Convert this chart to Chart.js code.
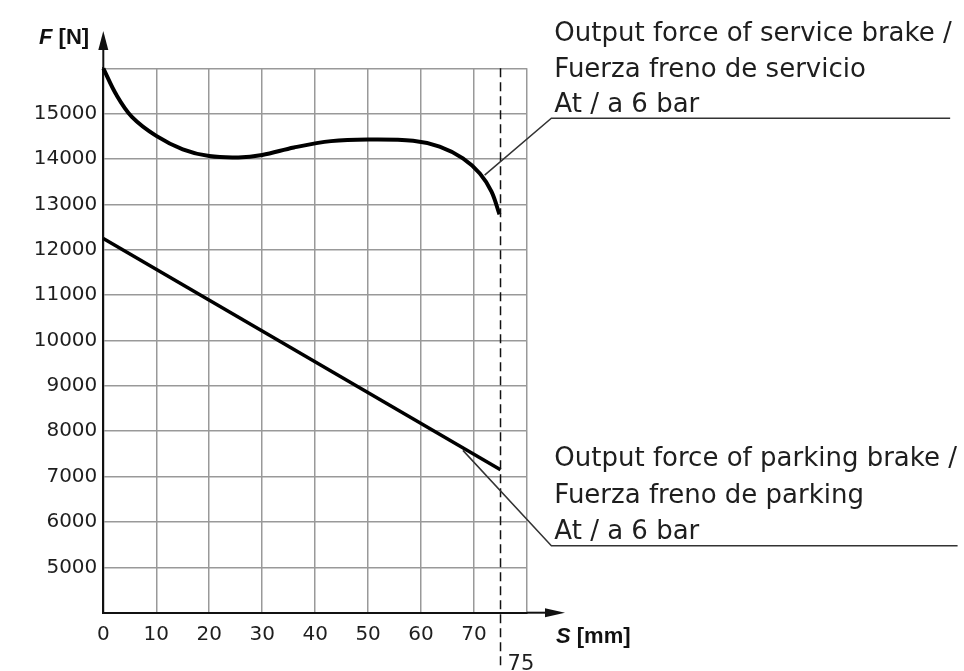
<!DOCTYPE html>
<html>
<head>
<meta charset="utf-8">
<script src="https://cdn.jsdelivr.net/npm/chart.js@4.4.0/dist/chart.umd.min.js"></script>
<style>
html,body{margin:0;padding:0;background:#fff;}
#wrap{width:964px;height:671px;position:relative;}
</style>
</head>
<body>
<div id="wrap"><canvas id="c" width="964" height="671"></canvas></div>
<script>
// ---- data (S in mm, F in N) ----
const serviceS = [0, 2.5, 5.4, 10, 15, 20, 25.5, 30, 36, 43, 50, 58.5, 63.5, 67.9, 71.1, 73.3, 74.8];
const serviceF = [16000, 15410, 14930, 14510, 14215, 14065, 14035, 14090, 14255, 14395, 14432, 14405, 14275, 14015, 13680, 13280, 12780];
const parkingS = [0, 75];
const parkingF = [12250, 7150];
const xTicks = [0, 10, 20, 30, 40, 50, 60, 70];
const yTicks = [5000, 6000, 7000, 8000, 9000, 10000, 11000, 12000, 13000, 14000, 15000];
const markerS = 75;
const serviceLabel = ["Output force of service brake /", "Fuerza freno de servicio", "At / a 6 bar"];
const parkingLabel = ["Output force of parking brake /", "Fuerza freno de parking", "At / a 6 bar"];
// leader anchors in data units: [point on curve, elbow, end of underline]
const serviceLeader = [[72.0, 13645], [84.6, 14900], [159.9, 14900]];
const parkingLeader = [[67.9, 7578], [84.6, 5478], [161.3, 5478]];

const FONT = "'DejaVu Sans', sans-serif";
const TFONT = "'Liberation Sans', Arial, sans-serif";
const TXT = '#1e1e1e';

const extras = {
  id: 'extras',
  afterDraw(chart) {
    const ctx = chart.ctx;
    const xs = chart.scales.x, ys = chart.scales.y;
    const a = chart.chartArea;
    ctx.save();
    // dashed marker line
    const mx = xs.getPixelForValue(markerS);
    ctx.strokeStyle = '#111'; ctx.lineWidth = 1.5; ctx.setLineDash([9, 5]);
    ctx.beginPath(); ctx.moveTo(mx, a.top); ctx.lineTo(mx, 668); ctx.stroke();
    ctx.setLineDash([]);
    ctx.fillStyle = TXT; ctx.font = '21px ' + FONT; ctx.textAlign = 'left'; ctx.textBaseline = 'alphabetic';
    ctx.fillText(String(markerS), mx + 7, 670);
    // axis extensions + arrows
    ctx.strokeStyle = '#111'; ctx.fillStyle = '#111'; ctx.lineWidth = 2;
    ctx.beginPath(); ctx.moveTo(a.left, a.top); ctx.lineTo(a.left, 45); ctx.stroke();
    ctx.beginPath(); ctx.moveTo(a.left, 31); ctx.lineTo(a.left - 5, 50); ctx.lineTo(a.left + 5, 50); ctx.closePath(); ctx.fill();
    ctx.beginPath(); ctx.moveTo(a.right, a.bottom); ctx.lineTo(550, a.bottom); ctx.stroke();
    ctx.beginPath(); ctx.moveTo(565, a.bottom); ctx.lineTo(545, a.bottom - 4.5); ctx.lineTo(545, a.bottom + 4.5); ctx.closePath(); ctx.fill();
    // axis titles
    ctx.fillStyle = '#111';
    ctx.textAlign = 'left';
    ctx.font = 'italic bold 22px ' + TFONT;
    ctx.fillText('F', 39, 44);
    let w = ctx.measureText('F').width;
    ctx.font = 'bold 22px ' + TFONT;
    ctx.fillText(' [N]', 39 + w, 44);
    ctx.font = 'italic bold 22px ' + TFONT;
    ctx.fillText('S', 556, 643);
    w = ctx.measureText('S').width;
    ctx.font = 'bold 22px ' + TFONT;
    ctx.fillText(' [mm]', 556 + w, 643);
    // leaders + labels
    const drawLeader = (pts, lines, offs) => {
      const p = pts.map(q => [xs.getPixelForValue(q[0]), ys.getPixelForValue(q[1])]);
      ctx.strokeStyle = '#333'; ctx.lineWidth = 1.5;
      ctx.beginPath(); ctx.moveTo(p[0][0], p[0][1]); ctx.lineTo(p[1][0], p[1][1]); ctx.lineTo(p[2][0], p[2][1]); ctx.stroke();
      ctx.fillStyle = TXT; ctx.font = '26px ' + FONT; ctx.textAlign = 'left';
      lines.forEach((t, i) => ctx.fillText(t, p[1][0] + 3, p[1][1] + offs[i]));
    };
    drawLeader(serviceLeader, serviceLabel, [-77, -41, -6]);
    drawLeader(parkingLeader, parkingLabel, [-80, -43, -7]);
    ctx.restore();
  }
};

new Chart(document.getElementById('c'), {
  type: 'line',
  data: {
    datasets: [
      { data: serviceS.map((s, i) => ({x: s, y: serviceF[i]})), borderColor: '#000', borderWidth: 4, pointRadius: 0, tension: 0.35, fill: false, clip: false },
      { data: parkingS.map((s, i) => ({x: s, y: parkingF[i]})), borderColor: '#000', borderWidth: 3.5, pointRadius: 0, tension: 0, fill: false, clip: false }
    ]
  },
  options: {
    responsive: false,
    animation: false,
    events: [],
    layout: { padding: { left: 0, top: 68.3, right: 437, bottom: 0 } },
    plugins: { legend: { display: false }, tooltip: { enabled: false } },
    scales: {
      x: {
        type: 'linear', min: 0, max: 80,
        afterFit: s => { s.height = 58.3; },
        afterBuildTicks: s => { s.ticks = [...xTicks, 80].map(v => ({value: v})); },
        ticks: { callback: v => xTicks.includes(v) ? String(v) : '', color: TXT, font: { family: FONT, size: 20 }, padding: 10, maxRotation: 0, autoSkip: false },
        grid: { color: '#999', lineWidth: 1.5, drawTicks: false },
        border: { color: '#111', width: 2 }
      },
      y: {
        type: 'linear', min: 4000, max: 16000,
        afterFit: s => { s.width = 103.3; },
        afterBuildTicks: s => { s.ticks = [4000, ...yTicks, 16000].map(v => ({value: v})); },
        ticks: { callback: v => yTicks.includes(v) ? String(v) : '', color: TXT, font: { family: FONT, size: 20 }, padding: 6, autoSkip: false },
        grid: { color: '#999', lineWidth: 1.5, drawTicks: false },
        border: { color: '#111', width: 2 }
      }
    }
  },
  plugins: [extras]
});
</script>
</body>
</html>
